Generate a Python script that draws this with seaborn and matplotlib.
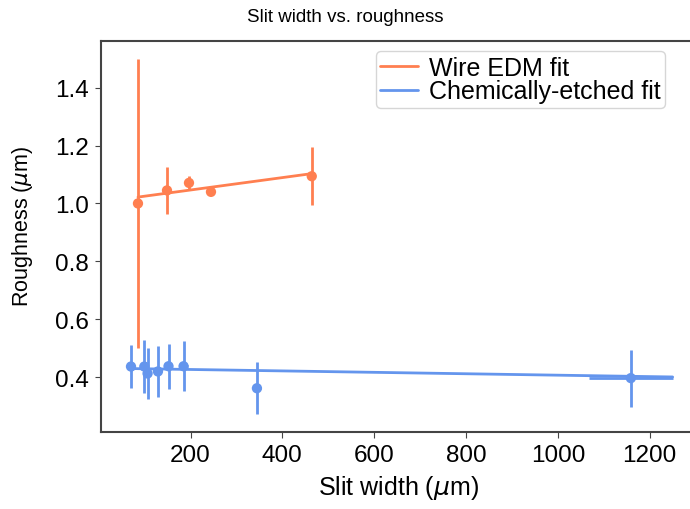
import matplotlib
matplotlib.use("Agg")
import matplotlib.pyplot as plt
import seaborn as sns
import pandas as pd

# Wire EDM samples
edm_width = [85.5, 148.7, 196.6, 244.5, 464.0]
edm_rough = [1.00, 1.045, 1.071, 1.040, 1.094]
edm_rough_err = [0.50, 0.08, 0.025, 0.01, 0.10]
edm_fit_x = [85.5, 464.0]
edm_fit_y = [1.022, 1.103]

# Chemically-etched samples
chem_width = [70.3, 99.3, 106.4, 129.0, 152.0, 184.8, 344.6, 1159.0]
chem_rough = [0.437, 0.437, 0.413, 0.420, 0.438, 0.438, 0.362, 0.397]
chem_rough_err = [0.075, 0.09, 0.087, 0.088, 0.077, 0.087, 0.09, 0.098]
chem_width_err = [0, 0, 0, 0, 0, 10, 8, 92]
chem_fit_x = [70.3, 1250.0]
chem_fit_y = [0.430, 0.401]

EDM_COLOR = "#ff7f50"
CHEM_COLOR = "#6495ed"


def main():
    sns.set_style("ticks")
    plt.rcParams["font.family"] = ["Liberation Sans", "DejaVu Sans"]
    plt.rcParams["text.color"] = "black"
    plt.rcParams["axes.labelcolor"] = "black"
    plt.rcParams["xtick.color"] = "black"
    plt.rcParams["ytick.color"] = "black"

    fig = plt.figure(figsize=(6.9, 5.1), dpi=100)
    ax = fig.add_axes([0.1464, 0.151, 0.8617, 0.7667])

    edm = pd.DataFrame({"width": edm_width, "rough": edm_rough})
    chem = pd.DataFrame({"width": chem_width, "rough": chem_rough})
    edm_fit = pd.DataFrame({"width": edm_fit_x, "rough": edm_fit_y})
    chem_fit = pd.DataFrame({"width": chem_fit_x, "rough": chem_fit_y})

    sns.lineplot(data=edm_fit, x="width", y="rough", color=EDM_COLOR,
                 linewidth=2, label="Wire EDM fit", ax=ax)
    sns.lineplot(data=chem_fit, x="width", y="rough", color=CHEM_COLOR,
                 linewidth=2, label="Chemically-etched fit", ax=ax)

    ax.errorbar(edm_width, edm_rough, yerr=edm_rough_err, fmt="none",
                ecolor=EDM_COLOR, elinewidth=2)
    ax.errorbar(chem_width, chem_rough, yerr=chem_rough_err,
                xerr=chem_width_err, fmt="none", ecolor=CHEM_COLOR,
                elinewidth=2)
    sns.scatterplot(data=edm, x="width", y="rough", color=EDM_COLOR, s=55,
                    edgecolor="none", ax=ax, zorder=3)
    sns.scatterplot(data=chem, x="width", y="rough", color=CHEM_COLOR, s=55,
                    edgecolor="none", ax=ax, zorder=3)

    ax.set_xlim(5, 1300)
    ax.set_ylim(0.211, 1.561)
    ax.set_xticks([200, 400, 600, 800, 1000, 1200])
    ax.set_yticks([0.4, 0.6, 0.8, 1.0, 1.2, 1.4])
    ax.set_xlabel(r"Slit width ($\mu$m)", fontsize=18, labelpad=5)
    ax.set_ylabel(r"Roughness ($\mu$m)", fontsize=15.5)
    ax.yaxis.set_label_coords(-0.111, 0.529)
    ax.tick_params(labelsize=17.5, length=4, color="#444444", pad=5)
    for side in ["left", "bottom", "top", "right"]:
        ax.spines[side].set_color("#444444")
        ax.spines[side].set_linewidth(1.5)

    fig.suptitle("Slit width vs. roughness", x=0.5, y=1 - 18 / 510,
                 va="center", fontsize=13.5)
    ax.legend(loc="upper right", bbox_to_anchor=(665 / 690, 1 - 52 / 510),
              bbox_transform=fig.transFigure, borderaxespad=0, fontsize=18,
              handlelength=1.5, borderpad=0.18, labelspacing=0.0,
              handletextpad=0.45)

    fig.savefig("out.png", dpi=100)
    plt.close(fig)


if __name__ == "__main__":
    main()
